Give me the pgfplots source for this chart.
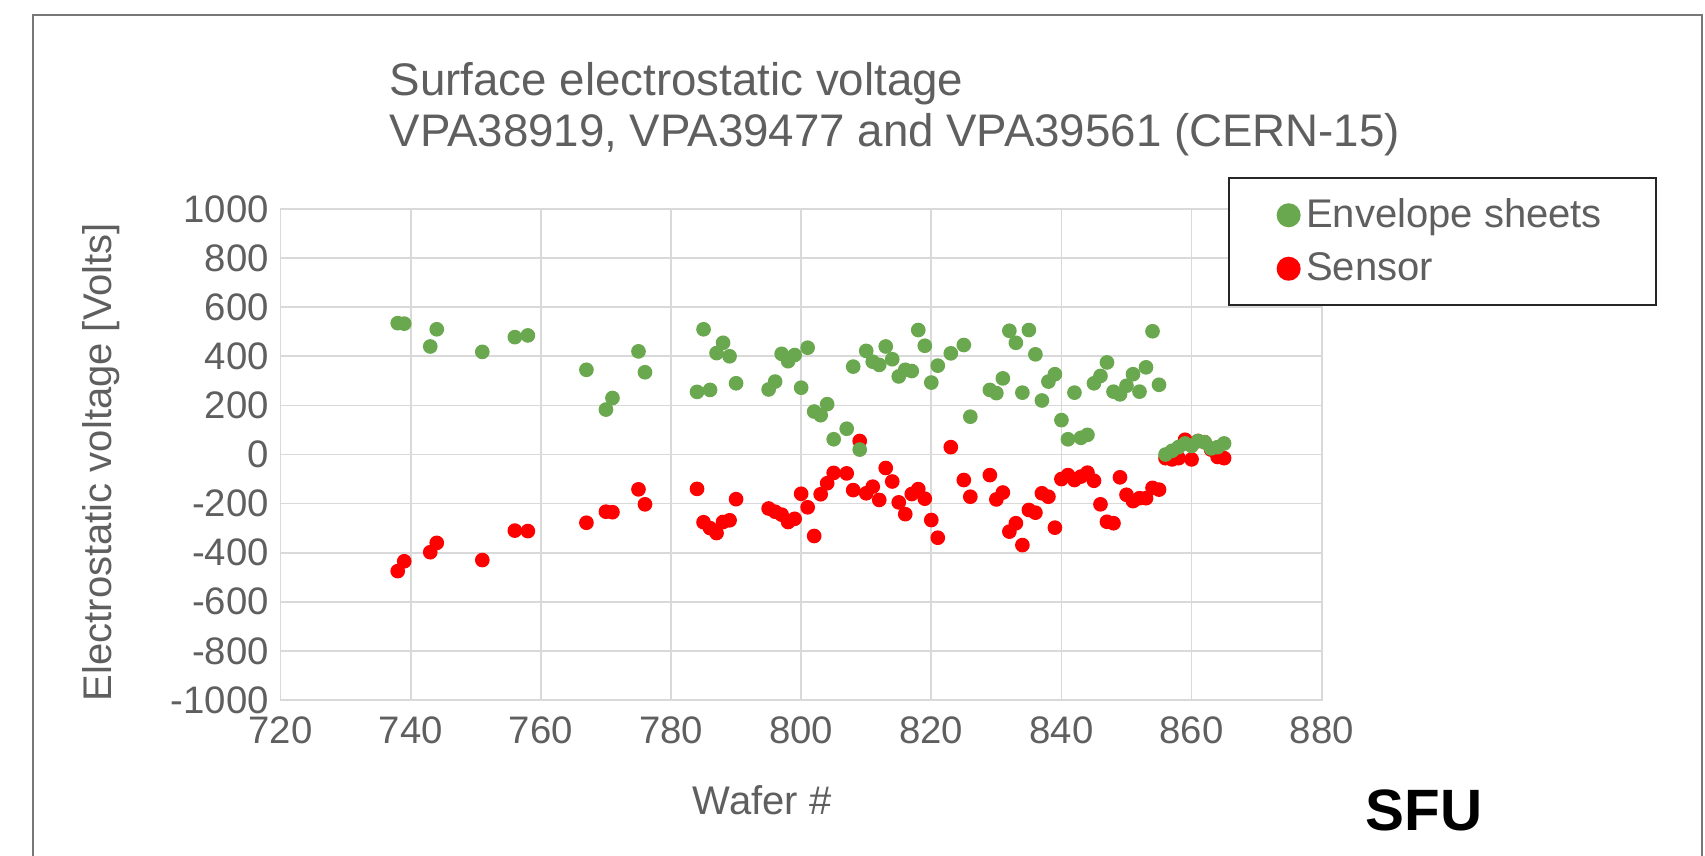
\documentclass[border=0pt]{standalone}
\usepackage{pgfplots}
\pgfplotsset{compat=1.18}
\usepackage{fontspec}
\setmainfont{Liberation Sans}

\definecolor{envgreen}{HTML}{6AA84F}
\definecolor{sensred}{HTML}{FF0000}
\definecolor{txtgray}{HTML}{5F5F5F}
\definecolor{gridgray}{HTML}{D9D9D9}
\definecolor{framegray}{HTML}{777777}

% Envelope sheets: wafer number, surface voltage [V]
\pgfplotstableread{
x y
738 535
739 533
743 440
744 510
751 418
756 478
758 485
767 345
770 183
771 230
775 420
776 335
784 255
785 510
786 263
787 413
788 455
789 400
790 290
795 265
796 297
797 410
798 380
799 405
800 272
801 435
802 175
803 160
804 205
805 62
807 105
808 358
809 20
810 422
811 378
812 365
813 440
814 388
815 318
816 345
817 340
818 507
819 443
820 293
821 362
823 412
825 446
826 154
829 263
830 250
831 310
832 504
833 455
834 252
835 507
836 408
837 220
838 297
839 327
840 140
841 62
842 252
843 68
844 80
845 290
846 320
847 375
848 256
849 245
850 280
851 327
852 256
853 355
854 502
855 284
856 0
857 15
858 30
859 45
860 35
861 55
862 50
863 25
864 30
865 45
}\envelope

% Sensor: wafer number, surface voltage [V]
\pgfplotstableread{
x y
738 -475
739 -435
743 -398
744 -360
751 -430
756 -310
758 -312
767 -278
770 -233
771 -235
775 -142
776 -203
784 -140
785 -276
786 -300
787 -320
788 -275
789 -268
790 -182
795 -220
796 -233
797 -245
798 -275
799 -262
800 -160
801 -215
802 -332
803 -162
804 -117
805 -75
807 -77
808 -145
809 55
810 -158
811 -131
812 -185
813 -55
814 -110
815 -195
816 -243
817 -161
818 -141
819 -180
820 -267
821 -339
823 30
825 -104
826 -172
829 -84
830 -183
831 -155
832 -314
833 -280
834 -369
835 -226
836 -237
837 -158
838 -172
839 -298
840 -100
841 -84
842 -104
843 -90
844 -74
845 -107
846 -203
847 -274
848 -280
849 -93
850 -164
851 -190
852 -178
853 -178
854 -136
855 -143
856 -15
857 -20
858 -15
859 60
860 -20
861 55
862 50
863 20
864 -10
865 -15
}\sensor

\begin{document}
\begin{tikzpicture}
% page area and slide frame
\useasboundingbox (0,0) rectangle (511.5pt,256.8pt);
\draw[framegray, line width=0.55pt] (9.9pt,-1pt) -- (9.9pt,252.3pt) -- (510.6pt,252.3pt) -- (510.6pt,-1pt);

% chart title
\node[anchor=base west, text=txtgray, inner sep=0pt, font=\fontsize{13.7}{16}\selectfont]
  at (116.7pt,228pt) {Surface electrostatic voltage};
\node[anchor=base west, text=txtgray, inner sep=0pt, font=\fontsize{13.7}{16}\selectfont]
  at (116.7pt,212.7pt) {VPA38919, VPA39477 and VPA39561 (CERN-15)};

\begin{axis}[
  at={(84.18pt,46.8pt)}, anchor=south west,
  scale only axis, width=312.33pt, height=147.3pt,
  xmin=720, xmax=880, ymin=-1000, ymax=1000,
  xtick={720,740,...,880}, ytick={-1000,-800,...,1000},
  grid=major, major grid style={gridgray, line width=0.5pt},
  axis line style={gridgray, line width=0.5pt},
  major tick length=0pt,
  tick label style={text=txtgray, font=\fontsize{11.5}{13}\selectfont},
  xticklabel style={yshift=-1.4pt},
  /pgf/number format/assume math mode=true,
  /pgf/number format/1000 sep={},
  xlabel={Wafer \#}, ylabel={Electrostatic voltage [Volts]},
  label style={text=txtgray, font=\fontsize{12}{14}\selectfont},
  xlabel style={at={(axis description cs:0.4624,-0.2342)}, anchor=base},
  ylabel style={at={(axis description cs:-0.1725,0.4847)}, anchor=center, rotate=0},
  legend style={at={(axis description cs:0.9103,1.0646)}, anchor=north west,
    draw=black!85, line width=0.6pt, fill=white, text=txtgray,
    font=\fontsize{12}{14}\selectfont,
    inner xsep=8pt, inner ysep=4pt, row sep=2pt,
    /tikz/every even column/.append style={column sep=0pt}},
  legend cell align=left,
  reverse legend,
  legend image code/.code={\path (0pt,0pt); \draw[#1, mark size=3.3pt] plot coordinates {(9.5pt,0pt)};},
  clip=false,
]
\addplot[only marks, mark=*, mark size=2pt, color=sensred, mark options={draw=sensred, fill=sensred}]
  table[x=x, y=y] {\sensor};
\addlegendentry{\makebox[95pt][l]{Sensor}}
\addplot[only marks, mark=*, mark size=2pt, color=envgreen, mark options={draw=envgreen, fill=envgreen}]
  table[x=x, y=y] {\envelope};
\addlegendentry{\makebox[95pt][l]{Envelope sheets}}
\end{axis}

% institution tag
\node[anchor=base west, inner sep=0pt, font=\fontsize{17.5}{20}\selectfont\bfseries]
  at (409.5pt,7.5pt) {SFU};
\end{tikzpicture}
\end{document}
